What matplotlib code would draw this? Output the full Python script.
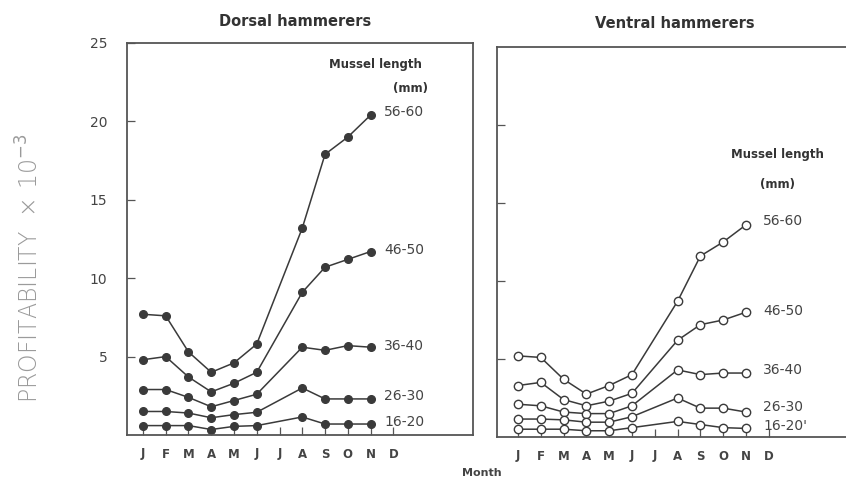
import numpy as np
import matplotlib
matplotlib.use("Agg")
import matplotlib.pyplot as plt

months = ["J", "F", "M", "A", "M", "J", "J", "A", "S", "O", "N", "D"]
# sampled months (no July sample)
sample_idx = [0, 1, 2, 3, 4, 5, 7, 8, 9, 10]
size_classes = ["56-60", "46-50", "36-40", "26-30", "16-20"]

dorsal = {
    "56-60": [7.7, 7.6, 5.3, 4.0, 4.6, 5.8, 13.2, 17.9, 19.0, 20.4],
    "46-50": [4.8, 5.0, 3.7, 2.75, 3.3, 4.0, 9.1, 10.7, 11.2, 11.7],
    "36-40": [2.9, 2.9, 2.4, 1.8, 2.2, 2.6, 5.6, 5.4, 5.7, 5.6],
    "26-30": [1.5, 1.5, 1.4, 1.1, 1.3, 1.45, 3.0, 2.3, 2.3, 2.3],
    "16-20": [0.6, 0.6, 0.6, 0.35, 0.55, 0.6, 1.15, 0.7, 0.7, 0.7],
}
ventral = {
    "56-60": [5.2, 5.1, 3.7, 2.75, 3.3, 4.0, 8.7, 11.6, 12.5, 13.6],
    "46-50": [3.3, 3.5, 2.4, 2.0, 2.3, 2.8, 6.2, 7.2, 7.5, 8.0],
    "36-40": [2.1, 2.0, 1.6, 1.5, 1.5, 2.0, 4.3, 4.0, 4.1, 4.1],
    "26-30": [1.15, 1.15, 1.1, 0.95, 0.95, 1.3, 2.5, 1.85, 1.85, 1.6],
    "16-20": [0.5, 0.5, 0.5, 0.4, 0.4, 0.6, 1.0, 0.8, 0.6, 0.55],
}
dorsal_label_y = {"56-60": 20.6, "46-50": 11.8, "36-40": 5.7, "26-30": 2.5, "16-20": 0.8}
ventral_label_y = {"56-60": 13.85, "46-50": 8.1, "36-40": 4.3, "26-30": 1.95, "16-20": 0.7}

ink = "#3a3a3a"
W, H = 846, 487
fig = plt.figure(figsize=(W / 100, H / 100), dpi=100)

def fbox(x0, y0, x1, y1):
    # pixel box -> figure fraction
    return [x0 / W, 1 - y1 / H, (x1 - x0) / W, (y1 - y0) / H]

axL = fig.add_axes(fbox(127, 43, 473, 435))
axR = fig.add_axes(fbox(497, 47, 852, 437))

x = np.array(sample_idx)

for ax in (axL, axR):
    ax.set_ylim(0, 25)
    ax.set_xticks(range(12))
    ax.set_xticklabels(months, fontsize=8.5, color="#444444", fontweight="bold")
    ax.set_yticks([5, 10, 15, 20])
    ax.tick_params(axis="both", direction="in", length=6, width=0.9, color="#555555", pad=9)
    for s in ax.spines.values():
        s.set_color("#555555")
        s.set_linewidth(1.3)

axL.set_xlim(-0.7, 14.5)
axR.set_xlim(-0.92, 14.65)

for name in size_classes:
    axL.plot(x, dorsal[name], color=ink, lw=1.1, marker="o", ms=5.5,
             mfc=ink, mec=ink)
    axR.plot(x, ventral[name], color=ink, lw=1.1, marker="o", ms=6,
             mfc="white", mec=ink, mew=1.0)

axL.set_yticks([5, 10, 15, 20, 25])
axL.set_yticklabels(["5", "10", "15", "20", "25"], fontsize=10, color="#444444")
axL.tick_params(axis="y", pad=14)
axR.set_yticklabels([])

for name in size_classes:
    axL.text(10.6, dorsal_label_y[name], name, fontsize=10, color="#444444",
             va="center", ha="left")
    lab = name + "'" if name == "16-20" else name
    axR.text(10.75, ventral_label_y[name], lab, fontsize=10, color="#444444",
             va="center", ha="left")

axL.text(10.2, 23.6, "Mussel length", fontsize=8.5, color="#333333",
         fontweight="bold", ha="center", va="center")
axL.text(11.76, 22.1, "(mm)", fontsize=8.5, color="#333333",
         fontweight="bold", ha="center", va="center")
axR.text(11.4, 18.1, "Mussel length", fontsize=8.5, color="#333333",
         fontweight="bold", ha="center", va="center")
axR.text(11.4, 16.2, "(mm)", fontsize=8.5, color="#333333",
         fontweight="bold", ha="center", va="center")

fig.text(295 / W, 1 - 22 / H, "Dorsal hammerers", fontsize=10.5, color="#333333",
         fontweight="bold", ha="center", va="center")
fig.text(675 / W, 1 - 24 / H, "Ventral hammerers", fontsize=10.5, color="#333333",
         fontweight="bold", ha="center", va="center")
fig.text(482 / W, 1 - 473 / H, "Month", fontsize=8, color="#444444",
         fontweight="bold", ha="center", va="center")
fig.text(30 / W, 1 - 268 / H, "PROFITABILITY  × 10$^{-3}$", fontsize=17,
         color="#9a9a9a", rotation=90, ha="center", va="center",
         fontweight="light")

fig.savefig("out.png", dpi=100)
